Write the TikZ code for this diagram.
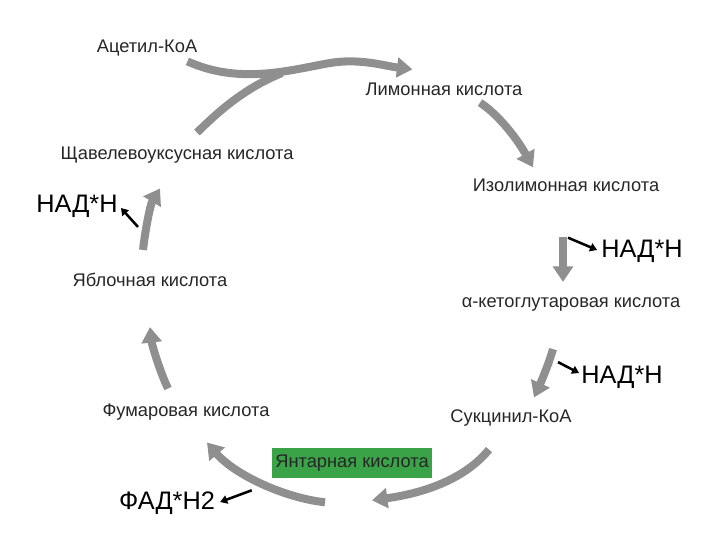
\documentclass[tikz,border=0pt]{standalone}
\usepackage{fontspec}
\setmainfont{Liberation Sans}
\usetikzlibrary{arrows.meta,calc}
\tikzset{>=Triangle}
\colorlet{cycgray}{black!44}
\colorlet{labcol}{black!85}
\definecolor{sucgreen}{RGB}{58,163,72}
\tikzstyle{acid}=[labcol,inner sep=0,font=\fontsize{13}{15}\selectfont]
\tikzstyle{coenz}=[black,inner sep=0,font=\fontsize{18}{20}\selectfont]
\tikzstyle{cycline}=[cycgray,line width=5.7pt,-{Triangle[width=14pt,length=11pt]}]
\tikzstyle{hline}=[black,line width=1.8pt,-{Triangle[width=6pt,length=5pt]}]

\begin{document}
\begin{tikzpicture}[x=0.025cm,y=-0.025cm]
  \useasboundingbox (0,0) rectangle (720,540);

  % ACIDS
  \node[acid] (acetyl)   at (147,48)  {Ацетил-КоА};
  \node[acid] (limon)    at (444,89)  {Лимонная кислота};
  \node[acid] (isolimon) at (566,185) {Изолимонная кислота};
  \node[acid] (ketoglut) at (571,304) {α-кетоглутаровая кислота};
  \node[acid] (succinyl) at (511,418) {Сукцинил-КоА};
  \node[acid,fill=sucgreen,minimum width=4cm,minimum height=0.75cm]
    (yantar) at (352,463) {Янтарная кислота};
  \node[acid] (fumar)    at (186,412) {Фумаровая кислота};
  \node[acid] (malat)    at (150,280) {Яблочная кислота};
  \node[acid] (oxalo)    at (177,155) {Щавелевоуксусная кислота};

  % COENZYMES
  \node[coenz] (nadhA) at (77,206)  {НАД*Н};
  \node[coenz] (nadhB) at (642,251) {НАД*Н};
  \node[coenz] (nadhC) at (622,377) {НАД*Н};
  \node[coenz] (fadh)  at (167,503) {ФАД*Н2};

  % CYCLE
  \coordinate (merge) at (282,73);
  \draw[cycline,-] ($(oxalo.north)+(20,-14)$)
    .. controls (220,110) and (245,88) .. (merge);
  \draw[cycline] ($(acetyl.south east)+(-10,5)$)
    .. controls (240,85) and (290,70) .. (330,63)
    .. controls (360,58) and (385,66) .. ($(limon.north west)+(47,-13)$);
  \draw[cycline] ($(limon.south)+(36,7)$)
    .. controls (495,112) and (515,135) .. ($(isolimon.north)+(-33,-11)$);
  \draw[cycline] ($(isolimon.south)+(-3,45)$) -- ($(ketoglut.north)+(-8,-15)$);
  \draw[cycline] ($(ketoglut.south)+(-18,38)$)
    .. controls (548,366) and (541,382) .. ($(succinyl.north)+(23,-12)$);
  \draw[cycline] ($(succinyl.south)+(-22,23)$)
    .. controls (460,485) and (410,495) .. ($(yantar.south)+(20,22)$);
  \draw[cycline] ($(yantar.south)+(-27,24)$)
    .. controls (285,498) and (235,475) .. ($(fumar.south)+(21,22)$);
  \draw[cycline] ($(fumar.north)+(-18,-15)$)
    .. controls (160,372) and (152,345) .. ($(malat.south)+(0,40)$);
  \draw[cycline] ($(malat.north)+(-7,-23)$)
    .. controls (145,232) and (150,205) .. ($(oxalo.south)+(-17,25)$);

  % NAD / FAD
  \draw[hline] ($(malat.north)+(-12,-46)$) -- ($(nadhA.east)+(3,2)$);
  \draw[hline] ($(isolimon.south)+(2,46)$) -- ($(nadhB.west)+(-4,-1)$);
  \draw[hline] ($(ketoglut.south)+(-13,51)$) -- ($(nadhC.west)+(-2,-4)$);
  \draw[hline] ($(yantar.south west)+(-20,12)$) -- ($(fadh.east)+(5,-1)$);

\end{tikzpicture}
\end{document}
